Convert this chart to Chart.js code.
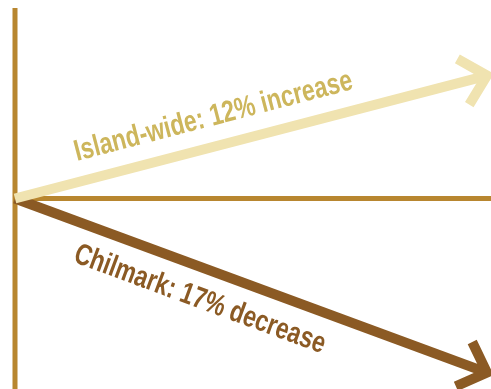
<!DOCTYPE html>
<html>
<head>
<meta charset="utf-8">
<script src="https://cdn.jsdelivr.net/npm/chart.js@4.4.1/dist/chart.umd.min.js"></script>
<style>
  html, body { margin: 0; padding: 0; background: #ffffff; }
  #wrap { width: 491px; height: 389px; position: relative; }
</style>
</head>
<body>
<div id="wrap"><canvas id="c" width="491" height="389"></canvas></div>
<script>
// ---- data ----
const xPoints = [0, 1];                       // start / end of the period
const islandWide = [0, 12];                   // % change, island-wide
const chilmark = [0, -17];                    // % change, Chilmark
const seriesNames = ['Island-wide', 'Chilmark'];
const seriesLabels = ['Island-wide: 12% increase', 'Chilmark: 17% decrease'];

// ---- styles ----
const AXIS_COLOR = '#b8862f';
const LIGHT = '#f0e3b0';
const LIGHT_TEXT = '#cdb65c';
const DARK = '#8b5a24';
const FONT = 'bold 30px "Liberation Sans", Arial, sans-serif';
const CONDENSE = 0.77;

const toPts = arr => xPoints.map((x, i) => ({ x: x, y: arr[i] }));

const axisPlugin = {
  id: 'axisLines',
  beforeDatasetsDraw(chart) {
    const { ctx, scales: { x, y } } = chart;
    const x0 = x.getPixelForValue(0);
    const y0 = y.getPixelForValue(0);
    ctx.save();
    ctx.strokeStyle = AXIS_COLOR;
    ctx.lineWidth = 5;
    ctx.beginPath();
    ctx.moveTo(x0, y0);
    ctx.lineTo(chart.width, y0);
    ctx.stroke();
    ctx.beginPath();
    ctx.moveTo(x0, chart.chartArea.top);
    ctx.lineTo(x0, chart.height);
    ctx.stroke();
    ctx.restore();
  }
};

const arrowPlugin = {
  id: 'arrowsAndLabels',
  afterDatasetsDraw(chart) {
    const { ctx } = chart;
    chart.data.datasets.forEach((ds, i) => {
      const meta = chart.getDatasetMeta(i);
      const pts = meta.data;
      const a = pts[0], b = pts[pts.length - 1];
      const ang = Math.atan2(b.y - a.y, b.x - a.x);
      // arrowhead (open chevron)
      const L = 34, spread = 44 * Math.PI / 180;
      ctx.save();
      ctx.strokeStyle = ds.borderColor;
      ctx.lineWidth = ds.borderWidth;
      ctx.lineJoin = 'miter';
      ctx.lineCap = 'butt';
      ctx.beginPath();
      ctx.moveTo(b.x - L * Math.cos(ang - spread), b.y - L * Math.sin(ang - spread));
      ctx.lineTo(b.x, b.y);
      ctx.lineTo(b.x - L * Math.cos(ang + spread), b.y - L * Math.sin(ang + spread));
      ctx.stroke();
      ctx.restore();
      // label along the arrow
      const t = ds.labelPos;
      const px = a.x + (b.x - a.x) * t;
      const py = a.y + (b.y - a.y) * t;
      const off = ds.labelOffset;
      const nx = -Math.sin(ang), ny = Math.cos(ang);
      ctx.save();
      ctx.translate(px + nx * off, py + ny * off);
      ctx.rotate(ang);
      ctx.scale(CONDENSE, 1);
      ctx.font = FONT;
      ctx.fillStyle = ds.labelColor;
      ctx.textAlign = 'center';
      ctx.textBaseline = 'middle';
      ctx.fillText(ds.labelText, 0, 0);
      ctx.restore();
    });
  }
};

new Chart(document.getElementById('c'), {
  type: 'line',
  data: {
    datasets: [
      {
        label: seriesNames[0],
        data: toPts(islandWide),
        borderColor: LIGHT,
        borderWidth: 10,
        pointRadius: 0,
        tension: 0,
        borderCapStyle: 'butt',
        labelText: seriesLabels[0],
        labelColor: LIGHT_TEXT,
        labelPos: 0.436,
        labelOffset: -29
      },
      {
        label: seriesNames[1],
        data: toPts(chilmark),
        borderColor: DARK,
        borderWidth: 10,
        pointRadius: 0,
        tension: 0,
        borderCapStyle: 'butt',
        labelText: seriesLabels[1],
        labelColor: DARK,
        labelPos: 0.414,
        labelOffset: 31
      }
    ]
  },
  options: {
    responsive: false,
    animation: false,
    clip: false,
    layout: { padding: { top: 8, left: 15, right: 0, bottom: 0 } },
    plugins: { legend: { display: false }, tooltip: { enabled: false } },
    scales: {
      x: { type: 'linear', min: 0, max: 1.0085, display: false },
      y: { type: 'linear', min: -18.6, max: 18.6, display: false }
    }
  },
  plugins: [axisPlugin, arrowPlugin]
});
</script>
</body>
</html>
